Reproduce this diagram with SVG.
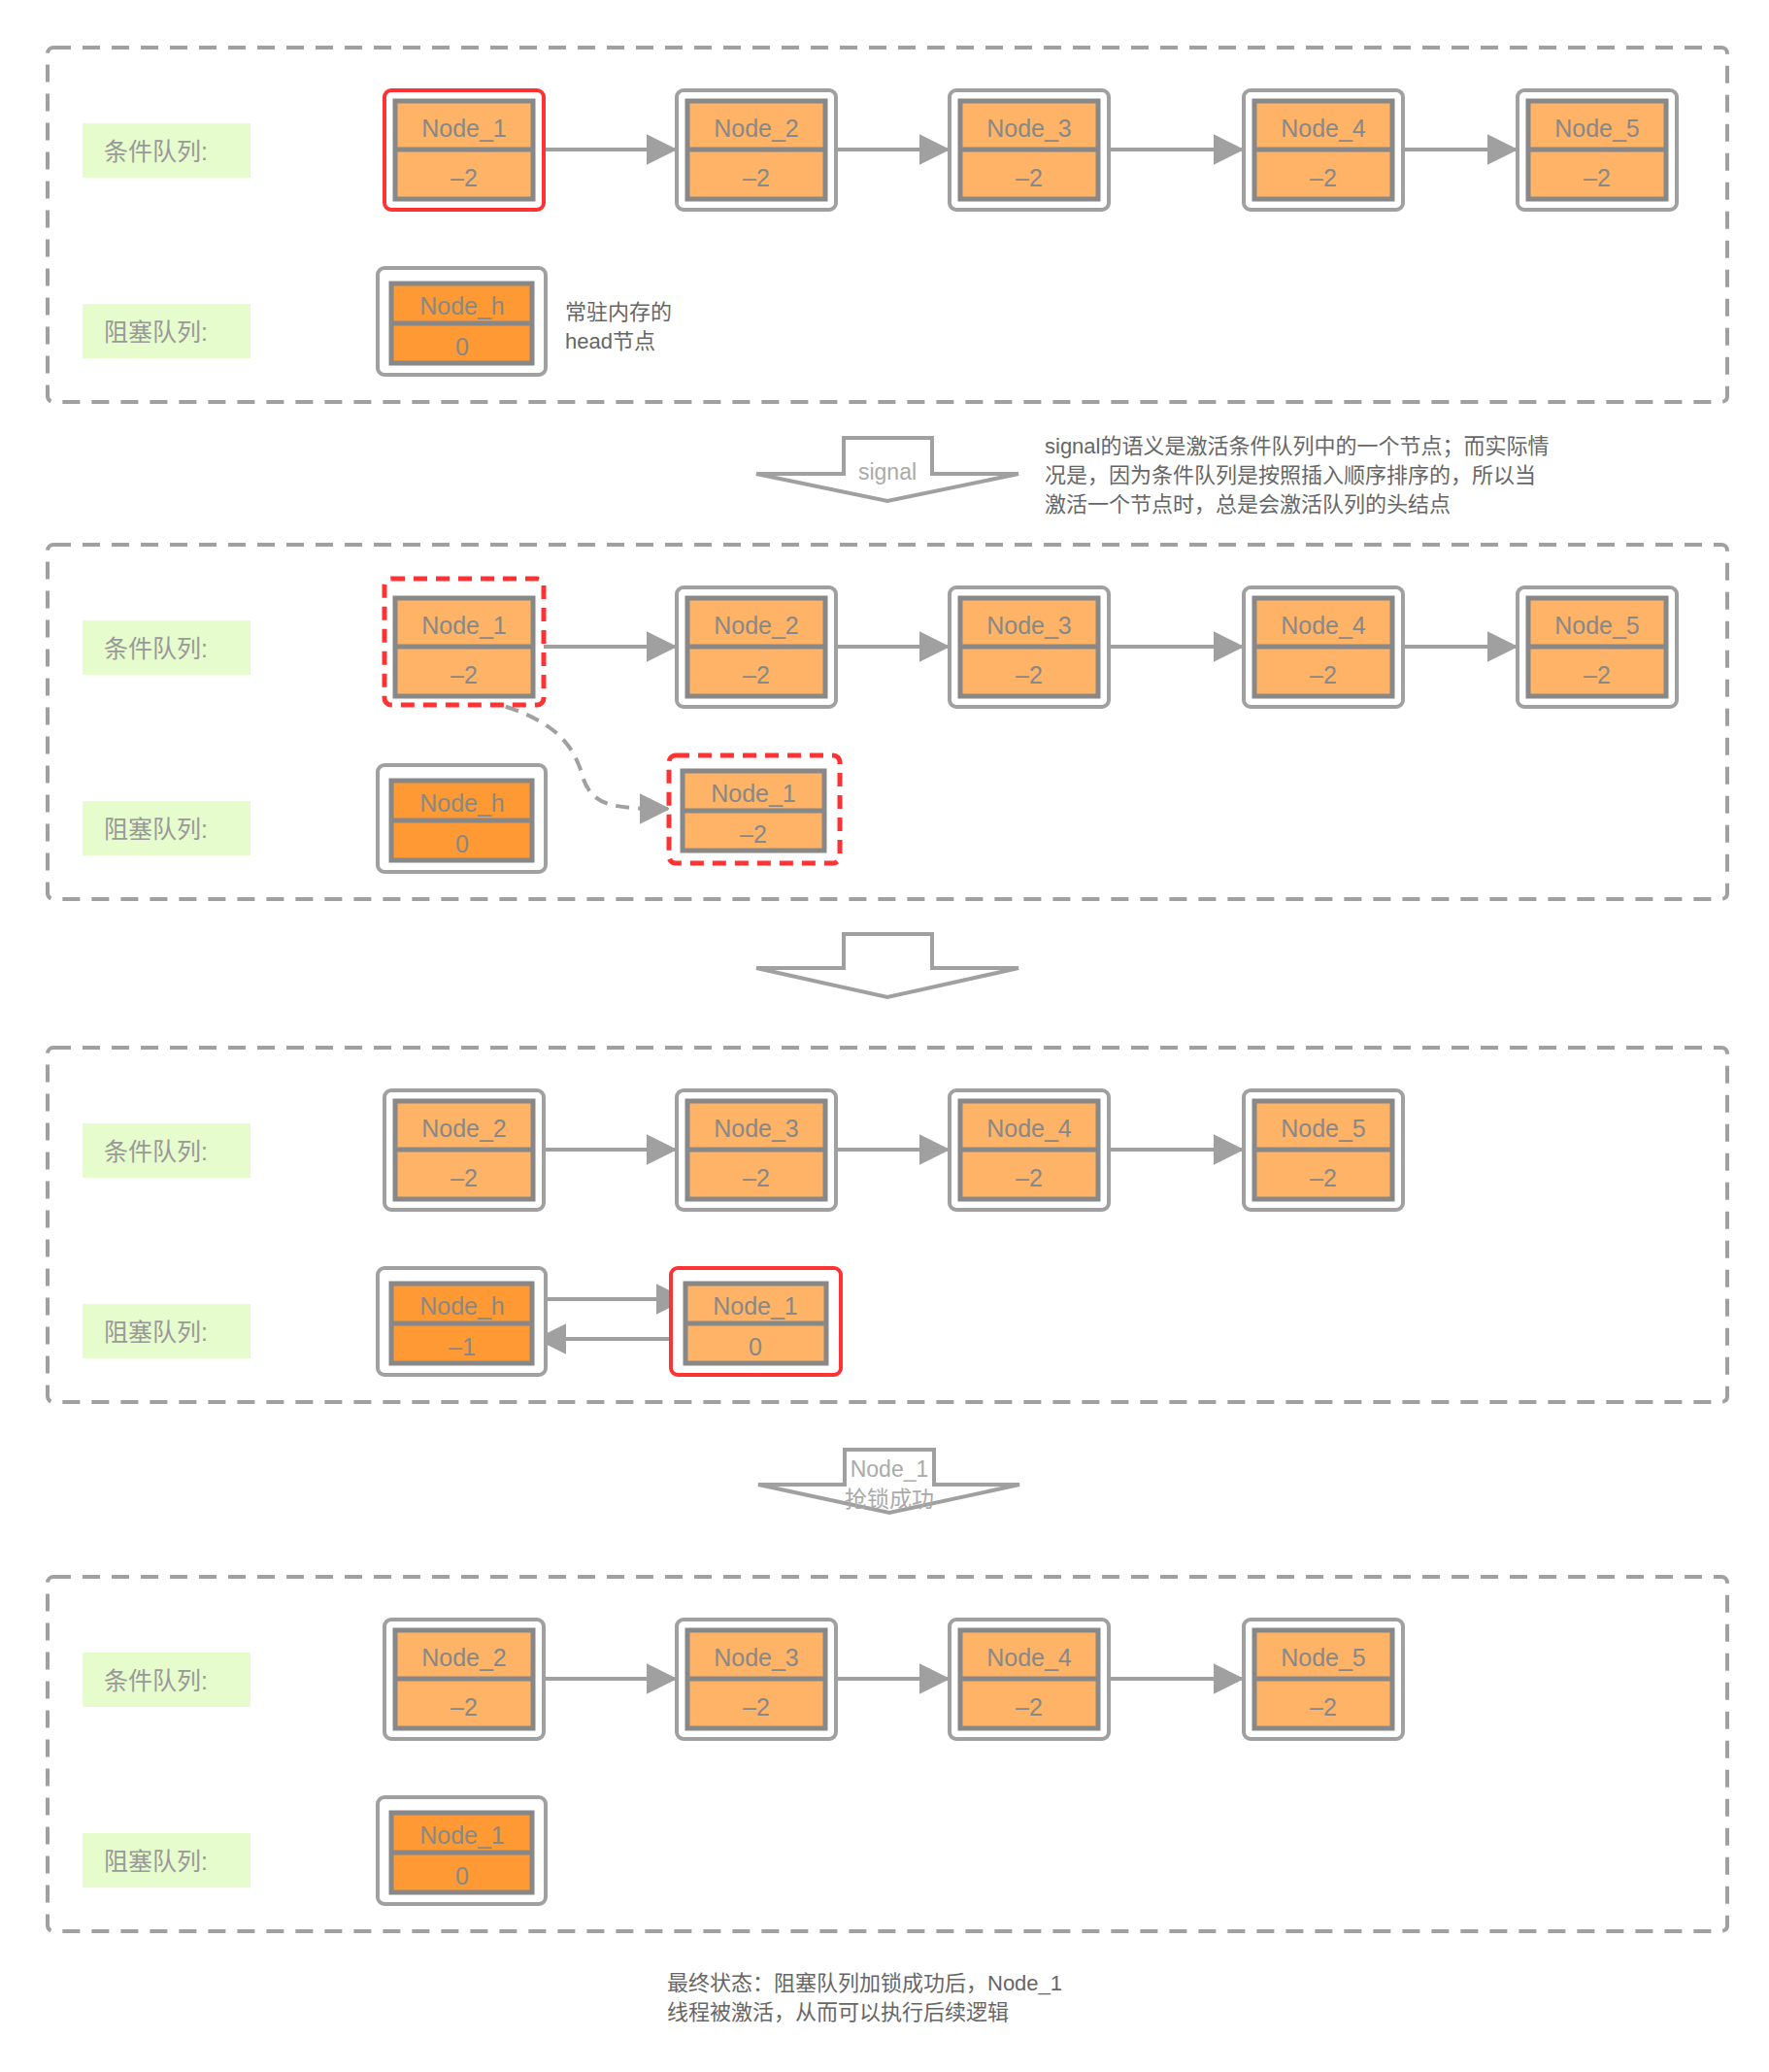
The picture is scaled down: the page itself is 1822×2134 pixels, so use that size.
<svg xmlns="http://www.w3.org/2000/svg" width="1822" height="2134" viewBox="0 0 1822 2134">
<defs>
<style>
text{font-family:"Liberation Sans","Noto Sans CJK SC",sans-serif}
.panel{fill:none;stroke:#a0a0a0;stroke-width:4;stroke-dasharray:18 12}
.lbl{fill:#e6fccc}
.lt{font-size:25px;fill:#999}
.outer{fill:#fff;stroke:#a0a0a0;stroke-width:4}
.red{fill:#fff;stroke:#ff3333;stroke-width:4}
.reddash{fill:#fff;stroke:#ff3333;stroke-width:5;stroke-dasharray:14 9}
.inner{fill:#ffb366;stroke:#888;stroke-width:5}
.innerd{fill:#ff9933;stroke:#888;stroke-width:5}
.div{stroke:#888;stroke-width:5}
.nt{font-size:25px;fill:#888;text-anchor:middle}
.conn{stroke:#a0a0a0;stroke-width:4;fill:none}
.big{fill:#fff;stroke:#a0a0a0;stroke-width:4}
.at{font-size:23px;fill:#aaa;text-anchor:middle}
.note{font-size:22px;fill:#666}
</style>
<marker id="ah" viewBox="0 0 12 12" refX="11" refY="6" markerWidth="8" markerHeight="8" markerUnits="strokeWidth" orient="auto"><path d="M0,0 L12,6 L0,12 z" fill="#a0a0a0"/></marker>
</defs>
<rect width="1822" height="2134" fill="#fff"/>

<!-- Panels -->
<g id="panel1">
<rect class="panel" x="49" y="49" width="1730" height="365" rx="6"/>
<rect class="lbl" x="85" y="127" width="173" height="56"/><text class="lt" x="107" y="165">条件队列:</text>
<rect class="lbl" x="85" y="313" width="173" height="56"/><text class="lt" x="107" y="351">阻塞队列:</text>
</g>
<g id="panel2" transform="translate(0,512)">
<rect class="panel" x="49" y="49" width="1730" height="365" rx="6"/>
<rect class="lbl" x="85" y="127" width="173" height="56"/><text class="lt" x="107" y="165">条件队列:</text>
<rect class="lbl" x="85" y="313" width="173" height="56"/><text class="lt" x="107" y="351">阻塞队列:</text>
</g>
<g id="panel3" transform="translate(0,1030)">
<rect class="panel" x="49" y="49" width="1730" height="365" rx="6"/>
<rect class="lbl" x="85" y="127" width="173" height="56"/><text class="lt" x="107" y="165">条件队列:</text>
<rect class="lbl" x="85" y="313" width="173" height="56"/><text class="lt" x="107" y="351">阻塞队列:</text>
</g>
<g id="panel4" transform="translate(0,1575)">
<rect class="panel" x="49" y="49" width="1730" height="365" rx="6"/>
<rect class="lbl" x="85" y="127" width="173" height="56"/><text class="lt" x="107" y="165">条件队列:</text>
<rect class="lbl" x="85" y="313" width="173" height="56"/><text class="lt" x="107" y="351">阻塞队列:</text>
</g>

<!-- Connectors -->
<g id="connectors">
<g>
<line class="conn" x1="560" y1="154" x2="695" y2="154" marker-end="url(#ah)"/>
<line class="conn" x1="861" y1="154" x2="976" y2="154" marker-end="url(#ah)"/>
<line class="conn" x1="1142" y1="154" x2="1279" y2="154" marker-end="url(#ah)"/>
<line class="conn" x1="1445" y1="154" x2="1561" y2="154" marker-end="url(#ah)"/>
</g>
<g transform="translate(0,512)">
<line class="conn" x1="560" y1="154" x2="695" y2="154" marker-end="url(#ah)"/>
<line class="conn" x1="861" y1="154" x2="976" y2="154" marker-end="url(#ah)"/>
<line class="conn" x1="1142" y1="154" x2="1279" y2="154" marker-end="url(#ah)"/>
<line class="conn" x1="1445" y1="154" x2="1561" y2="154" marker-end="url(#ah)"/>
</g>
<path class="conn" stroke-dasharray="14 9" d="M476,717 C560,732 590,760 600,800 C610,830 630,833 688,833" marker-end="url(#ah)"/>
<g transform="translate(0,1030)">
<line class="conn" x1="560" y1="154" x2="695" y2="154" marker-end="url(#ah)"/>
<line class="conn" x1="861" y1="154" x2="976" y2="154" marker-end="url(#ah)"/>
<line class="conn" x1="1142" y1="154" x2="1279" y2="154" marker-end="url(#ah)"/>
</g>
<line class="conn" x1="552" y1="1338" x2="705" y2="1338" marker-end="url(#ah)"/>
<line class="conn" x1="705" y1="1379" x2="554" y2="1379" marker-end="url(#ah)"/>
<g transform="translate(0,1575)">
<line class="conn" x1="560" y1="154" x2="695" y2="154" marker-end="url(#ah)"/>
<line class="conn" x1="861" y1="154" x2="976" y2="154" marker-end="url(#ah)"/>
<line class="conn" x1="1142" y1="154" x2="1279" y2="154" marker-end="url(#ah)"/>
</g>
</g>

<!-- Panel 1 nodes -->
<g id="p1_node1"><rect class="red" x="396" y="93" width="164" height="123" rx="7"/><rect class="inner" x="407" y="104" width="142" height="101"/><line class="div" x1="407" y1="154" x2="549" y2="154"/><text class="nt" x="478" y="141">Node_1</text><text class="nt" x="478" y="192">–2</text></g>
<g id="p1_node2"><rect class="outer" x="697" y="93" width="164" height="123" rx="7"/><rect class="inner" x="708" y="104" width="142" height="101"/><line class="div" x1="708" y1="154" x2="850" y2="154"/><text class="nt" x="779" y="141">Node_2</text><text class="nt" x="779" y="192">–2</text></g>
<g id="p1_node3"><rect class="outer" x="978" y="93" width="164" height="123" rx="7"/><rect class="inner" x="989" y="104" width="142" height="101"/><line class="div" x1="989" y1="154" x2="1131" y2="154"/><text class="nt" x="1060" y="141">Node_3</text><text class="nt" x="1060" y="192">–2</text></g>
<g id="p1_node4"><rect class="outer" x="1281" y="93" width="164" height="123" rx="7"/><rect class="inner" x="1292" y="104" width="142" height="101"/><line class="div" x1="1292" y1="154" x2="1434" y2="154"/><text class="nt" x="1363" y="141">Node_4</text><text class="nt" x="1363" y="192">–2</text></g>
<g id="p1_node5"><rect class="outer" x="1563" y="93" width="164" height="123" rx="7"/><rect class="inner" x="1574" y="104" width="142" height="101"/><line class="div" x1="1574" y1="154" x2="1716" y2="154"/><text class="nt" x="1645" y="141">Node_5</text><text class="nt" x="1645" y="192">–2</text></g>
<g id="p1_nodeh"><rect class="outer" x="389" y="276" width="173" height="110" rx="7"/><rect class="innerd" x="403" y="292" width="145" height="82"/><line class="div" x1="403" y1="333" x2="548" y2="333"/><text class="nt" x="476" y="324">Node_h</text><text class="nt" x="476" y="366">0</text></g>
<g id="note1"><text class="note" x="582" y="329">常驻内存的</text><text class="note" x="582" y="359">head节点</text></g>

<!-- Arrow 1 -->
<g id="arrow1"><path class="big" d="M869,451 L960,451 L960,488 L1049,488 L914,516 L779,488 L869,488 Z"/><text class="at" x="914" y="494">signal</text></g>
<g id="note2"><text class="note" x="1076" y="467">signal的语义是激活条件队列中的一个节点；而实际情</text><text class="note" x="1076" y="497">况是，因为条件队列是按照插入顺序排序的，所以当</text><text class="note" x="1076" y="527">激活一个节点时，总是会激活队列的头结点</text></g>

<!-- Panel 2 nodes -->
<g transform="translate(0,512)">
<g id="p2_node1"><rect class="reddash" x="396" y="84" width="164" height="130" rx="7"/><rect class="inner" x="407" y="104" width="142" height="101"/><line class="div" x1="407" y1="154" x2="549" y2="154"/><text class="nt" x="478" y="141">Node_1</text><text class="nt" x="478" y="192">–2</text></g>
<g id="p2_node2"><rect class="outer" x="697" y="93" width="164" height="123" rx="7"/><rect class="inner" x="708" y="104" width="142" height="101"/><line class="div" x1="708" y1="154" x2="850" y2="154"/><text class="nt" x="779" y="141">Node_2</text><text class="nt" x="779" y="192">–2</text></g>
<g id="p2_node3"><rect class="outer" x="978" y="93" width="164" height="123" rx="7"/><rect class="inner" x="989" y="104" width="142" height="101"/><line class="div" x1="989" y1="154" x2="1131" y2="154"/><text class="nt" x="1060" y="141">Node_3</text><text class="nt" x="1060" y="192">–2</text></g>
<g id="p2_node4"><rect class="outer" x="1281" y="93" width="164" height="123" rx="7"/><rect class="inner" x="1292" y="104" width="142" height="101"/><line class="div" x1="1292" y1="154" x2="1434" y2="154"/><text class="nt" x="1363" y="141">Node_4</text><text class="nt" x="1363" y="192">–2</text></g>
<g id="p2_node5"><rect class="outer" x="1563" y="93" width="164" height="123" rx="7"/><rect class="inner" x="1574" y="104" width="142" height="101"/><line class="div" x1="1574" y1="154" x2="1716" y2="154"/><text class="nt" x="1645" y="141">Node_5</text><text class="nt" x="1645" y="192">–2</text></g>
<g id="p2_nodeh"><rect class="outer" x="389" y="276" width="173" height="110" rx="7"/><rect class="innerd" x="403" y="292" width="145" height="82"/><line class="div" x1="403" y1="333" x2="548" y2="333"/><text class="nt" x="476" y="324">Node_h</text><text class="nt" x="476" y="366">0</text></g>
<g id="p2_node1b"><rect class="reddash" x="689" y="266" width="176" height="111" rx="7"/><rect class="inner" x="703" y="282" width="146" height="82"/><line class="div" x1="703" y1="323" x2="849" y2="323"/><text class="nt" x="776" y="314">Node_1</text><text class="nt" x="776" y="356">–2</text></g>
</g>

<!-- Arrow 2 -->
<g id="arrow2"><path class="big" d="M869,962 L960,962 L960,997 L1049,997 L914,1027 L779,997 L869,997 Z"/></g>

<!-- Panel 3 nodes -->
<g transform="translate(0,1030)">
<g id="p3_node2"><rect class="outer" x="396" y="93" width="164" height="123" rx="7"/><rect class="inner" x="407" y="104" width="142" height="101"/><line class="div" x1="407" y1="154" x2="549" y2="154"/><text class="nt" x="478" y="141">Node_2</text><text class="nt" x="478" y="192">–2</text></g>
<g id="p3_node3"><rect class="outer" x="697" y="93" width="164" height="123" rx="7"/><rect class="inner" x="708" y="104" width="142" height="101"/><line class="div" x1="708" y1="154" x2="850" y2="154"/><text class="nt" x="779" y="141">Node_3</text><text class="nt" x="779" y="192">–2</text></g>
<g id="p3_node4"><rect class="outer" x="978" y="93" width="164" height="123" rx="7"/><rect class="inner" x="989" y="104" width="142" height="101"/><line class="div" x1="989" y1="154" x2="1131" y2="154"/><text class="nt" x="1060" y="141">Node_4</text><text class="nt" x="1060" y="192">–2</text></g>
<g id="p3_node5"><rect class="outer" x="1281" y="93" width="164" height="123" rx="7"/><rect class="inner" x="1292" y="104" width="142" height="101"/><line class="div" x1="1292" y1="154" x2="1434" y2="154"/><text class="nt" x="1363" y="141">Node_5</text><text class="nt" x="1363" y="192">–2</text></g>
<g id="p3_nodeh"><rect class="outer" x="389" y="276" width="173" height="110" rx="7"/><rect class="innerd" x="403" y="292" width="145" height="82"/><line class="div" x1="403" y1="333" x2="548" y2="333"/><text class="nt" x="476" y="324">Node_h</text><text class="nt" x="476" y="366">–1</text></g>
<g id="p3_node1"><rect class="red" x="691" y="276" width="175" height="110" rx="7"/><rect class="inner" x="706" y="292" width="145" height="82"/><line class="div" x1="706" y1="333" x2="851" y2="333"/><text class="nt" x="778" y="324">Node_1</text><text class="nt" x="778" y="366">0</text></g>
</g>

<!-- Arrow 3 -->
<g id="arrow3"><path class="big" d="M870,1493 L962,1493 L962,1529 L1050,1529 L916,1558 L781,1529 L870,1529 Z"/><text class="at" x="916" y="1521">Node_1</text><text class="at" x="916" y="1552">抢锁成功</text></g>

<!-- Panel 4 nodes -->
<g transform="translate(0,1575)">
<g id="p4_node2"><rect class="outer" x="396" y="93" width="164" height="123" rx="7"/><rect class="inner" x="407" y="104" width="142" height="101"/><line class="div" x1="407" y1="154" x2="549" y2="154"/><text class="nt" x="478" y="141">Node_2</text><text class="nt" x="478" y="192">–2</text></g>
<g id="p4_node3"><rect class="outer" x="697" y="93" width="164" height="123" rx="7"/><rect class="inner" x="708" y="104" width="142" height="101"/><line class="div" x1="708" y1="154" x2="850" y2="154"/><text class="nt" x="779" y="141">Node_3</text><text class="nt" x="779" y="192">–2</text></g>
<g id="p4_node4"><rect class="outer" x="978" y="93" width="164" height="123" rx="7"/><rect class="inner" x="989" y="104" width="142" height="101"/><line class="div" x1="989" y1="154" x2="1131" y2="154"/><text class="nt" x="1060" y="141">Node_4</text><text class="nt" x="1060" y="192">–2</text></g>
<g id="p4_node5"><rect class="outer" x="1281" y="93" width="164" height="123" rx="7"/><rect class="inner" x="1292" y="104" width="142" height="101"/><line class="div" x1="1292" y1="154" x2="1434" y2="154"/><text class="nt" x="1363" y="141">Node_5</text><text class="nt" x="1363" y="192">–2</text></g>
<g id="p4_node1h"><rect class="outer" x="389" y="276" width="173" height="110" rx="7"/><rect class="innerd" x="403" y="292" width="145" height="82"/><line class="div" x1="403" y1="333" x2="548" y2="333"/><text class="nt" x="476" y="324">Node_1</text><text class="nt" x="476" y="366">0</text></g>
</g>

<g id="note3"><text class="note" x="687" y="2050">最终状态：阻塞队列加锁成功后，Node_1</text><text class="note" x="687" y="2080">线程被激活，从而可以执行后续逻辑</text></g>
</svg>
